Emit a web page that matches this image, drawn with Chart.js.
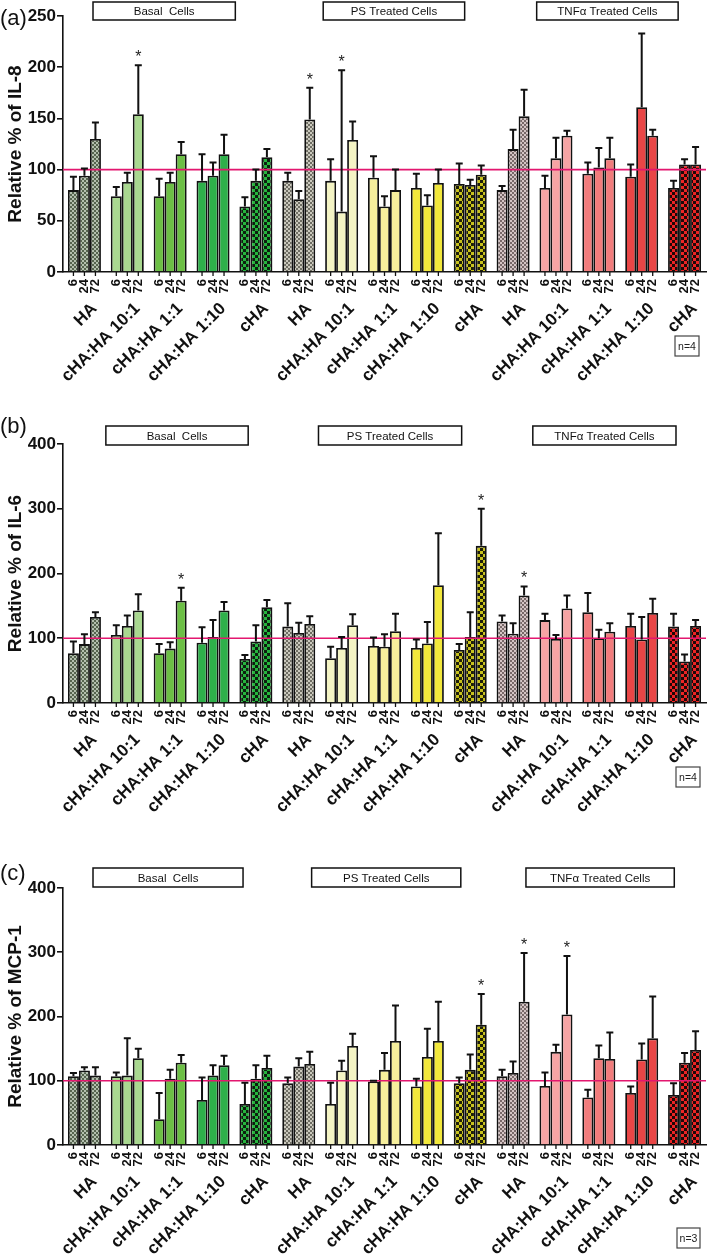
<!DOCTYPE html>
<html>
<head>
<meta charset="utf-8">
<script src="https://cdn.jsdelivr.net/npm/chart.js@4.4.1/dist/chart.umd.min.js"></script>
<style>
  body { margin: 0; background: #fff; }
  canvas { position: absolute; left: 0; }
</style>
</head>
<body>
<canvas id="chartIL8" width="709" height="410" style="top:0px"></canvas>
<canvas id="chartIL6" width="709" height="430" style="top:410px"></canvas>
<canvas id="chartMCP1" width="709" height="416" style="top:840px"></canvas>
<script>
const groupNames = ['HA', 'cHA:HA 10:1', 'cHA:HA 1:1', 'cHA:HA 1:10', 'cHA',
                    'HA', 'cHA:HA 10:1', 'cHA:HA 1:1', 'cHA:HA 1:10', 'cHA',
                    'HA', 'cHA:HA 10:1', 'cHA:HA 1:1', 'cHA:HA 1:10', 'cHA'];
const timePoints = ['6', '24', '72'];
const sectionNames = ['Basal  Cells', 'PS Treated Cells', 'TNF\u03b1 Treated Cells'];

// IL-8, % of control (mean and SD at 6, 24 and 72 h)
const il8Mean6 = [80, 74, 74, 89, 64, 89, 89, 92, 82, 86, 80, 82, 96, 93, 82];
const il8Sd6 = [13, 9, 17, 26, 9, 8, 21, 21, 14, 20, 4, 12, 11, 12, 7];
const il8Mean24 = [94, 88, 88, 94, 89, 71, 59, 64, 65, 85, 120, 111, 102, 161, 105];
const il8Sd24 = [7, 9, 9, 13, 11, 8, 138, 10, 10, 5, 19, 20, 19, 72, 5];
const il8Mean72 = [130, 154, 115, 115, 112, 149, 129, 80, 87, 95, 152, 133, 111, 133, 105];
const il8Sd72 = [16, 48, 12, 19, 8, 31, 18, 20, 13, 9, 26, 5, 20, 6, 17];
const il8Stars = [[1, 2], [5, 2], [6, 1]];

// IL-6
const il6Mean6 = [77, 105, 77, 93, 68, 118, 69, 88, 85, 82, 126, 128, 140, 119, 118];
const il6Sd6 = [18, 15, 14, 24, 6, 36, 18, 13, 13, 9, 9, 10, 30, 19, 20];
const il6Mean24 = [91, 119, 84, 102, 95, 108, 85, 87, 92, 102, 107, 99, 100, 98, 64];
const il6Sd24 = [15, 16, 10, 26, 25, 16, 17, 19, 33, 38, 16, 6, 13, 35, 11];
const il6Mean72 = [133, 143, 158, 143, 148, 122, 120, 111, 182, 243, 166, 146, 110, 139, 119];
const il6Sd72 = [7, 25, 20, 13, 11, 12, 17, 27, 80, 57, 14, 20, 13, 22, 9];
const il6Stars = [[2, 2], [9, 2], [10, 2]];

// MCP-1
const mcpMean6 = [107, 107, 40, 70, 64, 96, 64, 99, 91, 96, 107, 92, 74, 81, 78];
const mcpSd6 = [5, 6, 41, 35, 33, 9, 33, 1, 12, 9, 10, 21, 12, 10, 18];
const mcpMean24 = [116, 108, 103, 108, 103, 122, 116, 117, 137, 117, 112, 145, 135, 133, 128];
const mcpSd24 = [5, 58, 14, 16, 21, 13, 15, 26, 44, 24, 18, 11, 20, 25, 15];
const mcpMean72 = [108, 135, 128, 124, 120, 126, 154, 162, 162, 187, 223, 203, 134, 166, 148];
const mcpSd72 = [13, 15, 12, 15, 19, 19, 19, 55, 61, 48, 76, 91, 41, 65, 29];
const mcpStars = [[9, 2], [10, 2], [11, 2]];

const FONT = '"Liberation Sans", Arial, sans-serif';
Chart.defaults.font.family = FONT;

function checker(light, dark, size) {
  const cv = document.createElement('canvas');
  cv.width = cv.height = size * 2;
  const g = cv.getContext('2d');
  g.fillStyle = light;
  g.fillRect(0, 0, size * 2, size * 2);
  g.fillStyle = dark;
  g.fillRect(0, 0, size, size);
  g.fillRect(size, size, size, size);
  return g.createPattern(cv, 'repeat');
}

const groupFills = [
  checker('#b3bfae', '#56644f', 2), '#a9d890', '#6cbf45', '#2eb04a', checker('#25b53d', '#0d1f0f', 3),
  checker('#cac8bc', '#6e6d63', 2), '#f4f4c4', '#f6ef9c', '#f2e83c', checker('#c8c21c', '#1e1e08', 3),
  checker('#d4c4c4', '#776868', 2), '#f6a4a4', '#f17c7c', '#e94646', checker('#ee2424', '#1e0808', 3)
];

const overlay = {
  id: 'overlay',
  afterDatasetsDraw(chart, args, o) {
    const ctx = chart.ctx;
    const yS = chart.scales.y;
    const area = chart.chartArea;
    ctx.save();
    // 100 % reference line
    const yRef = yS.getPixelForValue(100);
    ctx.strokeStyle = '#e3176f';
    ctx.lineWidth = 1.6;
    ctx.beginPath();
    ctx.moveTo(area.left, yRef);
    ctx.lineTo(area.right, yRef);
    ctx.stroke();
    // error bars, mean + SD
    ctx.strokeStyle = '#111';
    ctx.lineWidth = 2;
    chart.data.datasets.forEach((ds, i) => {
      chart.getDatasetMeta(i).data.forEach((bar, j) => {
        const yTop = yS.getPixelForValue(ds.data[j] + ds.sd[j]);
        ctx.beginPath();
        ctx.moveTo(bar.x, bar.y);
        ctx.lineTo(bar.x, yTop);
        ctx.moveTo(bar.x - 3.5, yTop);
        ctx.lineTo(bar.x + 3.5, yTop);
        ctx.stroke();
      });
    });
    // significance stars
    ctx.fillStyle = '#222';
    ctx.font = '16px ' + FONT;
    ctx.textAlign = 'center';
    ctx.textBaseline = 'alphabetic';
    o.stars.forEach(([g, t]) => {
      const ds = chart.data.datasets[t];
      const bar = chart.getDatasetMeta(t).data[g];
      ctx.fillText('*', bar.x, yS.getPixelForValue(ds.data[g] + ds.sd[g]) - 3);
    });
    ctx.restore();
  },
  afterDraw(chart, args, o) {
    const ctx = chart.ctx;
    const xS = chart.scales.x;
    const base = chart.chartArea.bottom;
    ctx.save();
    ctx.strokeStyle = '#111';
    ctx.fillStyle = '#111';
    ctx.lineWidth = 1.3;
    // time point ticks and labels under each bar
    ctx.font = 'bold 13px ' + FONT;
    chart.data.datasets.forEach((ds, i) => {
      chart.getDatasetMeta(i).data.forEach(bar => {
        ctx.beginPath();
        ctx.moveTo(bar.x, base);
        ctx.lineTo(bar.x, base + 4);
        ctx.stroke();
        ctx.save();
        ctx.translate(bar.x, base + 7);
        ctx.rotate(-Math.PI / 2);
        ctx.textAlign = 'right';
        ctx.textBaseline = 'middle';
        ctx.fillText(timePoints[i], 0, 0);
        ctx.restore();
      });
    });
    // group names
    ctx.font = 'bold 17px ' + FONT;
    groupNames.forEach((name, k) => {
      const cx = xS.getPixelForValue(k);
      ctx.save();
      ctx.translate(cx + 4, base + 28);
      ctx.rotate(-Math.PI / 4);
      ctx.textAlign = 'right';
      ctx.textBaseline = 'top';
      ctx.fillText(name, 0, 0);
      ctx.restore();
    });
    // section boxes
    ctx.lineWidth = 1.5;
    ctx.font = '11.5px ' + FONT;
    ctx.textAlign = 'center';
    ctx.textBaseline = 'middle';
    o.boxes.forEach((b, s) => {
      const x0 = xS.getPixelForValue(b[0]);
      const x1 = xS.getPixelForValue(b[1]);
      ctx.fillStyle = '#fff';
      ctx.fillRect(x0, o.boxTop, x1 - x0, o.boxH);
      ctx.strokeRect(x0, o.boxTop, x1 - x0, o.boxH);
      ctx.fillStyle = '#111';
      ctx.fillText(sectionNames[s], (x0 + x1) / 2, o.boxTop + o.boxH / 2 + 1);
    });
    // panel letter
    ctx.font = '22px ' + FONT;
    ctx.textAlign = 'left';
    ctx.textBaseline = 'alphabetic';
    ctx.fillText(o.letter, 0, o.letterY);
    // n box
    const nb = o.nBox;
    ctx.lineWidth = 1.2;
    ctx.strokeStyle = '#444';
    ctx.strokeRect(nb[0], nb[1], nb[2], nb[3]);
    ctx.font = '10.5px ' + FONT;
    ctx.textAlign = 'center';
    ctx.textBaseline = 'middle';
    ctx.fillStyle = '#222';
    ctx.fillText(o.nText, nb[0] + nb[2] / 2, nb[1] + nb[3] / 2 + 1);
    ctx.restore();
  }
};

function buildChart(canvasId, p) {
  const canvas = document.getElementById(canvasId);
  return new Chart(canvas, {
    type: 'bar',
    data: {
      labels: groupNames,
      datasets: p.means.map((m, i) => ({
        label: timePoints[i] + ' h',
        data: m,
        sd: p.sds[i],
        backgroundColor: groupFills,
        borderColor: '#111',
        borderWidth: 1.8,
        categoryPercentage: 0.77,
        barPercentage: 1.0
      }))
    },
    options: {
      responsive: false,
      animation: false,
      layout: { padding: { top: p.padTop, right: 3, left: 0, bottom: 0 } },
      plugins: {
        legend: { display: false },
        tooltip: { enabled: false },
        overlay: p
      },
      scales: {
        x: {
          grid: { display: false, drawTicks: false },
          border: { color: '#111', width: 1.6 },
          ticks: { display: false },
          afterFit: s => { s.height = canvas.height - p.axisBottom; }
        },
        y: {
          min: 0,
          max: p.yMax,
          ticks: { stepSize: p.step, color: '#111', padding: 1, font: { size: 17, weight: 'bold' } },
          grid: { drawOnChartArea: false, tickLength: 6, color: '#111', lineWidth: 1.6 },
          border: { color: '#111', width: 1.6 },
          title: {
            display: true,
            text: p.title,
            color: '#111',
            font: { size: 19, weight: 'bold' },
            padding: { top: 4, bottom: 0 }
          },
          afterFit: s => { s.width = 63; }
        }
      }
    },
    plugins: [overlay]
  });
}

buildChart('chartIL8', {
  means: [il8Mean6, il8Mean24, il8Mean72],
  sds: [il8Sd6, il8Sd24, il8Sd72],
  stars: il8Stars,
  title: 'Relative % of IL-8',
  yMax: 250, step: 50,
  padTop: 16, axisBottom: 272,
  letter: '(a)', letterY: 25,
  boxTop: 2, boxH: 18,
  boxes: [[0.2, 3.52], [5.57, 8.87], [10.55, 13.85]],
  nText: 'n=4', nBox: [675, 336, 24, 20]
});

buildChart('chartIL6', {
  means: [il6Mean6, il6Mean24, il6Mean72],
  sds: [il6Sd6, il6Sd24, il6Sd72],
  stars: il6Stars,
  title: 'Relative % of IL-6',
  yMax: 400, step: 100,
  padTop: 34, axisBottom: 293,
  letter: '(b)', letterY: 23,
  boxTop: 16, boxH: 19,
  boxes: [[0.5, 3.82], [5.46, 8.8], [10.46, 13.8]],
  nText: 'n=4', nBox: [676, 357, 24, 20]
});

buildChart('chartMCP1', {
  means: [mcpMean6, mcpMean24, mcpMean72],
  sds: [mcpSd6, mcpSd24, mcpSd72],
  stars: mcpStars,
  title: 'Relative % of MCP-1',
  yMax: 400, step: 100,
  padTop: 48, axisBottom: 305,
  letter: '(c)', letterY: 40,
  boxTop: 28, boxH: 19,
  boxes: [[0.2, 3.7], [5.3, 8.78], [10.3, 13.76]],
  nText: 'n=3', nBox: [677, 388, 23, 20]
});
</script>
</body>
</html>
